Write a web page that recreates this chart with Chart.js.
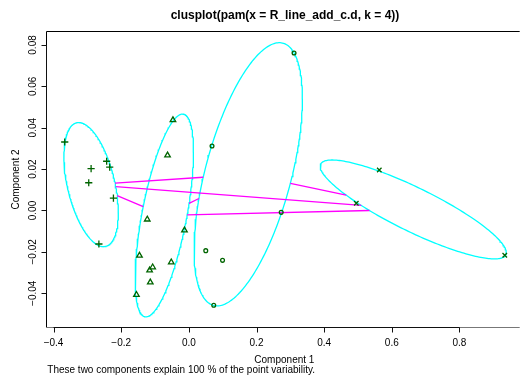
<!DOCTYPE html>
<html><head><meta charset="utf-8">
<script src="https://cdn.jsdelivr.net/npm/chart.js@4/dist/chart.umd.min.js"></script>
<style>html,body{margin:0;padding:0;background:#fff;overflow:hidden}canvas{display:block}</style>
</head><body>
<canvas id="c" width="524" height="377"></canvas>
<script>
// ---- text ----
const titleText = "clusplot(pam(x = R_line_add_c.d, k = 4))";
const xLabel = "Component 1";
const yLabel = "Component 2";
const subText = "These two components explain 100 % of the point variability.";

// ---- ticks ----
const xTicks = [-0.4, -0.2, 0.0, 0.2, 0.4, 0.6, 0.8];
const xTickLabels = ["\u22120.4", "\u22120.2", "0.0", "0.2", "0.4", "0.6", "0.8"];
const yTicks = [-0.04, -0.02, 0.00, 0.02, 0.04, 0.06, 0.08];
const yTickLabels = ["\u22120.04", "\u22120.02", "0.00", "0.02", "0.04", "0.06", "0.08"];

// ---- cluster 1 (+) ----
const plusX = [-0.367, -0.289, -0.243, -0.234, -0.296, -0.223, -0.266];
const plusY = [0.0331, 0.0202, 0.0238, 0.0210, 0.0134, 0.0060, -0.0162];
// ---- cluster 2 (triangles) ----
const triX = [-0.047, -0.063, -0.123, -0.013, -0.146, -0.052, -0.107, -0.116, -0.114, -0.155];
const triY = [0.0437, 0.0267, -0.0043, -0.0096, -0.0218, -0.0250, -0.0274, -0.0289, -0.0347, -0.0407];
// ---- cluster 3 (circles) ----
const circX = [0.311, 0.0685, 0.050, 0.0996, 0.0736, 0.273];
const circY = [0.0761, 0.0312, -0.0194, -0.0241, -0.0458, -0.0009];
// ---- cluster 4 (x) ----
const crossX = [0.563, 0.495, 0.934];
const crossY = [0.0196, 0.0035, -0.0216];

// ---- cluster ellipses (center, half-extent in x, half-extent in y, correlation) ----
const ellCx  = [-0.289, -0.0726, 0.1756, 0.6634];
const ellCy  = [0.0125, -0.0024, 0.0175, 0.0005];
const ellRx  = [0.0805, 0.0863, 0.1601, 0.2751];
const ellRy  = [0.0300, 0.0490, 0.0636, 0.0239];
const ellRho = [-0.455, 0.627, 0.574, -0.872];

// axis ranges
const xMin = -0.4194, xMax = 0.9752, yMin = -0.05631, yMax = 0.08627;

const green = '#006400';
const toPts = (xs, ys) => xs.map((x, i) => ({x: x, y: ys[i]}));

function ellipsePts(k) {
  const pts = [];
  const s = Math.sqrt(1 - ellRho[k] * ellRho[k]);
  for (let i = 0; i <= 240; i++) {
    const t = i / 240 * 2 * Math.PI;
    pts.push({x: ellCx[k] + ellRx[k] * Math.cos(t),
              y: ellCy[k] + ellRy[k] * (ellRho[k] * Math.cos(t) + s * Math.sin(t))});
  }
  return pts;
}
function quadInv(k, dx, dy) {
  const a = ellRx[k] * ellRx[k], c = ellRy[k] * ellRy[k], b = ellRho[k] * ellRx[k] * ellRy[k];
  const det = a * c - b * b;
  return (c * dx * dx - 2 * b * dx * dy + a * dy * dy) / det;
}
function segment(i, j) {
  const dx = ellCx[j] - ellCx[i], dy = ellCy[j] - ellCy[i];
  const si = 1 / Math.sqrt(quadInv(i, dx, dy));
  const sj = 1 - 1 / Math.sqrt(quadInv(j, dx, dy));
  if (sj <= si) return null;
  return [{x: ellCx[i] + si * dx, y: ellCy[i] + si * dy}, {x: ellCx[i] + sj * dx, y: ellCy[i] + sj * dy}];
}

const datasets = [];
datasets.push({data: toPts(plusX, plusY), pointStyle: 'cross', pointRadius: 3.6, borderColor: green, backgroundColor: green, pointBorderWidth: 1.3, order: 0});
datasets.push({data: toPts(triX, triY), pointStyle: 'triangle', pointRadius: 3.2, borderColor: green, backgroundColor: 'rgba(0,0,0,0)', pointBorderWidth: 1.3, order: 0});
datasets.push({data: toPts(circX, circY), pointStyle: 'circle', pointRadius: 1.9, borderColor: green, backgroundColor: 'rgba(0,0,0,0)', pointBorderWidth: 1.3, order: 0});
datasets.push({data: toPts(crossX, crossY), pointStyle: 'crossRot', pointRadius: 3.2, borderColor: green, backgroundColor: green, pointBorderWidth: 1.3, order: 0});
for (let i = 0; i < 4; i++) for (let j = i + 1; j < 4; j++) {
  const seg = segment(i, j);
  if (seg) datasets.push({data: seg, showLine: true, pointRadius: 0, borderColor: '#FF00FF', borderWidth: 1.3, fill: false, tension: 0, order: 1});
}
for (let k = 0; k < 4; k++) {
  datasets.push({data: ellipsePts(k), showLine: true, pointRadius: 0, borderColor: '#00FFFF', borderWidth: 1.3, fill: false, tension: 0, order: 2});
}

const FONT = "'Liberation Sans', Arial, Helvetica, sans-serif";
const decor = {
  id: 'decor',
  afterDraw(chart) {
    const ctx = chart.ctx, a = chart.chartArea;
    const xs = chart.scales.x, ys = chart.scales.y;
    ctx.save();
    // box
    ctx.lineWidth = 1;
    ctx.strokeStyle = '#000';
    ctx.beginPath();
    ctx.moveTo(a.left - 0.5, a.bottom + 0.5); ctx.lineTo(a.left - 0.5, a.top - 0.5); ctx.lineTo(a.right + 1, a.top - 0.5);
    ctx.stroke();
    ctx.strokeStyle = '#777';
    ctx.beginPath(); ctx.moveTo(a.left - 0.5, a.bottom + 0.5); ctx.lineTo(a.right + 1, a.bottom + 0.5); ctx.stroke();
    // x axis
    ctx.strokeStyle = '#111';
    ctx.beginPath();
    const x0 = xs.getPixelForValue(xTicks[0]), x1 = xs.getPixelForValue(xTicks[xTicks.length - 1]);
    ctx.moveTo(x0, a.bottom + 0.5); ctx.lineTo(x1, a.bottom + 0.5);
    xTicks.forEach(v => { const p = Math.round(xs.getPixelForValue(v)) + 0.5; ctx.moveTo(p, a.bottom + 0.5); ctx.lineTo(p, a.bottom + 5.5); });
    ctx.stroke();
    // y axis
    ctx.beginPath();
    const y0 = ys.getPixelForValue(yTicks[0]), y1 = ys.getPixelForValue(yTicks[yTicks.length - 1]);
    ctx.moveTo(a.left - 0.5, y0); ctx.lineTo(a.left - 0.5, y1);
    yTicks.forEach(v => { const p = Math.round(ys.getPixelForValue(v)) + 0.5; ctx.moveTo(a.left - 0.5, p); ctx.lineTo(a.left - 5.5, p); });
    ctx.stroke();
    // tick labels
    ctx.fillStyle = '#000';
    ctx.font = '10px ' + FONT;
    ctx.textAlign = 'center';
    ctx.textBaseline = 'alphabetic';
    xTicks.forEach((v, i) => ctx.fillText(xTickLabels[i], xs.getPixelForValue(v), 345.5));
    yTicks.forEach((v, i) => {
      ctx.save(); ctx.translate(35.8, ys.getPixelForValue(v)); ctx.rotate(-Math.PI / 2);
      ctx.fillText(yTickLabels[i], 0, 0); ctx.restore();
    });
    // axis titles
    ctx.fillText(xLabel, (a.left + a.right) / 2 + 1.5, 363.3);
    ctx.save(); ctx.translate(18.5, (a.top + a.bottom) / 2); ctx.rotate(-Math.PI / 2);
    ctx.fillText(yLabel, 0, 0); ctx.restore();
    // subtitle
    ctx.textAlign = 'left';
    ctx.fillText(subText, 47.3, 372.5);
    // title
    ctx.textAlign = 'center';
    ctx.font = 'bold 12px ' + FONT;
    ctx.fillText(titleText, 285, 18.6);
    ctx.restore();
  }
};

new Chart(document.getElementById('c'), {
  type: 'scatter',
  data: {datasets: datasets},
  options: {
    responsive: false,
    animation: false,
    events: [],
    layout: {padding: {left: 47, top: 32, right: 0.5, bottom: 50}},
    plugins: {legend: {display: false}, tooltip: {enabled: false}, title: {display: false}},
    scales: {
      x: {type: 'linear', min: xMin, max: xMax, display: false},
      y: {type: 'linear', min: yMin, max: yMax, display: false}
    }
  },
  plugins: [decor]
});
</script>
</body></html>
